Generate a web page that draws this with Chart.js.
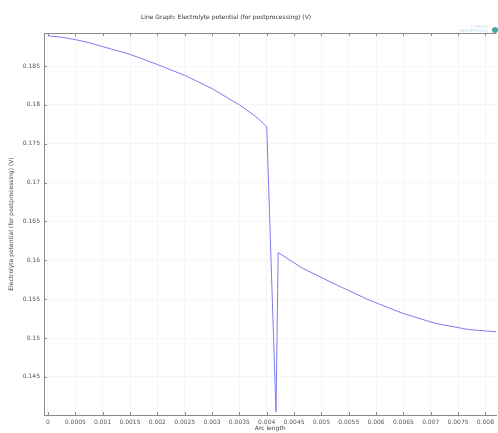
<!DOCTYPE html>
<html>
<head>
  <title>Line Graph: Electrolyte potential</title>
  <script src="https://cdn.jsdelivr.net/npm/chart.js"></script>
  <style>
    body { margin: 0; background: #fff; overflow: hidden; }
  </style>
</head>
<body>
  <canvas id="potential-chart" width="498" height="433"></canvas>

  <script>
    // values
    var arcLength = [0, 0.00025, 0.0005, 0.00075, 0.001, 0.0015, 0.002, 0.0025, 0.003, 0.0035, 0.0038, 0.004,
                     0.00417, 0.00421, 0.00465, 0.00526, 0.00587, 0.00648, 0.00708, 0.00769, 0.0082];
    var potential = [0.1889, 0.1887, 0.1884, 0.1880, 0.1875, 0.1865, 0.1852, 0.1838, 0.1821, 0.1800, 0.1785, 0.1772,
                     0.1405, 0.1610, 0.1590, 0.1569, 0.1549, 0.1532, 0.1519, 0.1511, 0.1508];
    var xTicks = [0, 0.0005, 0.001, 0.0015, 0.002, 0.0025, 0.003, 0.0035, 0.004,
                  0.0045, 0.005, 0.0055, 0.006, 0.0065, 0.007, 0.0075, 0.008];
    var yTicks = [0.145, 0.15, 0.155, 0.16, 0.165, 0.17, 0.175, 0.18, 0.185];

    var fuente = "'DejaVu Sans', sans-serif";

    // ticks pointing inward, top frame line, title and logo
    var marco = {
      id: "marco",
      afterDatasetsDraw: function (chart) {
        var ctx = chart.ctx;
        var a = chart.chartArea;
        var sx = chart.scales.x;
        var sy = chart.scales.y;
        ctx.save();
        ctx.strokeStyle = "#8a8a8a";
        ctx.lineWidth = 1;
        ctx.beginPath();
        ctx.moveTo(a.left, a.top + 0.5);
        ctx.lineTo(a.right, a.top + 0.5);
        xTicks.forEach(function (v) {
          var px = Math.round(sx.getPixelForValue(v)) + 0.5;
          ctx.moveTo(px, a.bottom);
          ctx.lineTo(px, a.bottom - 3);
          ctx.moveTo(px, a.top);
          ctx.lineTo(px, a.top + 3);
        });
        yTicks.forEach(function (v) {
          var py = Math.round(sy.getPixelForValue(v)) + 0.5;
          ctx.moveTo(a.left, py);
          ctx.lineTo(a.left + 3, py);
        });
        ctx.stroke();

        ctx.fillStyle = "#333";
        ctx.font = "6px " + fuente;
        ctx.textAlign = "center";
        ctx.textBaseline = "middle";
        ctx.fillText("Line Graph: Electrolyte potential (for postprocessing) (V)", 226, 17);

        ctx.fillStyle = "#bfe0ec";
        ctx.font = "4px " + fuente;
        ctx.textAlign = "right";
        ctx.fillText("COMSOL", 488, 27);
        ctx.fillText("MULTIPHYSICS", 488, 31);
        ctx.fillStyle = "#49a9a6";
        ctx.beginPath();
        ctx.arc(495, 30, 3, 0, Math.PI * 2);
        ctx.fill();
        ctx.restore();
      }
    };

    new Chart(document.getElementById("potential-chart").getContext("2d"), {
      type: "scatter",
      data: {
        datasets: [{
          label: "Electrolyte potential",
          data: arcLength.map(function (x, i) { return { x: x, y: potential[i] }; }),
          showLine: true,
          borderColor: "#7c7cf2",
          borderWidth: 1,
          pointRadius: 0,
          tension: 0
        }]
      },
      options: {
        responsive: false,
        animation: false,
        layout: { padding: { top: 33, right: 0, left: 0, bottom: 0 } },
        plugins: {
          legend: { display: false },
          tooltip: { enabled: false }
        },
        scales: {
          x: {
            type: "linear",
            min: -0.000073,
            max: 0.0082,
            afterBuildTicks: function (s) { s.ticks = xTicks.map(function (v) { return { value: v }; }); },
            afterFit: function (s) { s.height = 18; },
            grid: { color: "#f6f6f6", drawTicks: false },
            border: { color: "#8a8a8a" },
            ticks: {
              padding: 4,
              maxRotation: 0,
              autoSkip: false,
              color: "#555",
              font: { size: 6, family: fuente },
              callback: function (v) { return String(+v.toFixed(5)); }
            },
            title: {
              display: true,
              text: "Arc length",
              color: "#444",
              font: { size: 6, family: fuente },
              padding: { top: 0, bottom: 1 }
            }
          },
          y: {
            min: 0.1401,
            max: 0.18925,
            afterBuildTicks: function (s) { s.ticks = yTicks.map(function (v) { return { value: v }; }); },
            afterFit: function (s) { s.width = 44; },
            grid: { color: "#f6f6f6", drawTicks: false },
            border: { color: "#8a8a8a" },
            ticks: {
              padding: 4,
              autoSkip: false,
              color: "#555",
              font: { size: 6, family: fuente },
              callback: function (v) { return String(+v.toFixed(4)); }
            },
            title: {
              display: true,
              text: "Electrolyte potential (for postprocessing) (V)",
              color: "#444",
              font: { size: 6, family: fuente },
              padding: { top: 8, bottom: 0 }
            }
          }
        }
      },
      plugins: [marco]
    });
  </script>
</body>
</html>
